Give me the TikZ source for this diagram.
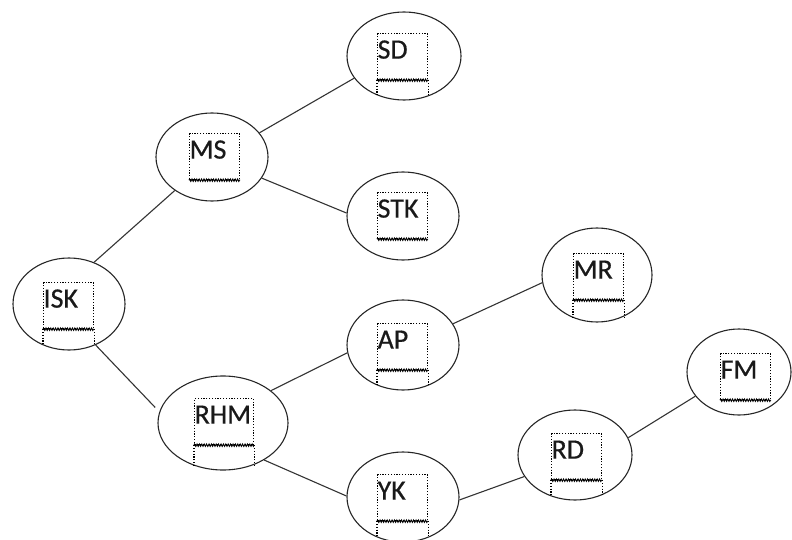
\documentclass[tikz,border=0pt]{standalone}
\usepackage{fontspec}
\setmainfont{Carlito}
\newfontfamily\boxfont{Carlito}[FakeBold=0.6]
\usetikzlibrary{shapes.geometric,decorations.pathmorphing}
\begin{document}
\begin{tikzpicture}[
    x=1pt, y=-1pt,
    bub/.style={draw=black!85, line width=1.1pt, ellipse, inner sep=0pt},
    tbox/.style={draw, line width=1.2pt, dash pattern=on 1.2pt off 1.6pt,
      anchor=north west, inner xsep=0pt, inner ysep=0pt,
      text width=50pt, align=left, text height=25pt, text depth=21pt,
      font=\boxfont\fontsize{28}{30}\selectfont, text=black!90},
    wavy/.style={line width=0.9pt, decorate,
      decoration={zigzag, amplitude=1.2pt, segment length=2.4pt}},
    lower/.style={line width=1.2pt, dash pattern=on 1.2pt off 1.6pt,
      shorten >=5pt},
    link/.style={draw=black!80, line width=1.1pt}
  ]
  \useasboundingbox (0,0) rectangle (792,540);
  % ellipses
  \node[bub, minimum width=112pt, minimum height=92pt] (isk) at (69,304) {};
  \node[bub, minimum width=112pt, minimum height=88pt] (ms) at (212,157) {};
  \node[bub, minimum width=114pt, minimum height=88pt] (sd) at (404,56) {};
  \node[bub, minimum width=112pt, minimum height=88pt] (stk) at (403,216) {};
  \node[bub, minimum width=112pt, minimum height=90pt] (ap) at (403,345) {};
  \node[bub, minimum width=112pt, minimum height=90pt] (yk) at (403,497) {};
  \node[bub, minimum width=110pt, minimum height=94pt] (mr) at (597,275) {};
  \node[bub, minimum width=130pt, minimum height=94pt] (rhm) at (223,423) {};
  \node[bub, minimum width=114pt, minimum height=90pt] (rd) at (575,455) {};
  \node[bub, minimum width=104pt, minimum height=86pt] (fm) at (739,372) {};
  % text boxes
  \node[tbox] (iskbox) at (43,282) {ISK};
  \node[tbox] (msbox) at (189,133) {MS};
  \node[tbox] (sdbox) at (377,33) {SD};
  \node[tbox] (stkbox) at (377,192) {STK};
  \node[tbox] (apbox) at (377,323) {AP};
  \node[tbox] (ykbox) at (377,474) {YK};
  \node[tbox] (mrbox) at (573,253) {MR};
  \node[tbox, text width=59pt] (rhmbox) at (194,398) {RHM};
  \node[tbox] (rdbox) at (551,433) {RD};
  \node[tbox] (fmbox) at (720,353) {FM};
  % wavy bottoms
  \draw[wavy] (iskbox.south west) -- (iskbox.south east);
  \draw[wavy] (msbox.south west) -- (msbox.south east);
  \draw[wavy] (sdbox.south west) -- (sdbox.south east);
  \draw[wavy] (stkbox.south west) -- (stkbox.south east);
  \draw[wavy] (apbox.south west) -- (apbox.south east);
  \draw[wavy] (ykbox.south west) -- (ykbox.south east);
  \draw[wavy] (mrbox.south west) -- (mrbox.south east);
  \draw[wavy] (rhmbox.south west) -- (rhmbox.south east);
  \draw[wavy] (rdbox.south west) -- (rdbox.south east);
  \draw[wavy] (fmbox.south west) -- (fmbox.south east);
  % lower parts
  \draw[lower] (iskbox.south west) -- (iskbox.south west |- isk.south);
  \draw[lower] (iskbox.south east) -- (iskbox.south east |- isk.south);
  \draw[lower] (sdbox.south west) -- (sdbox.south west |- sd.south);
  \draw[lower] (sdbox.south east) -- (sdbox.south east |- sd.south);
  \draw[lower] (apbox.south west) -- (apbox.south west |- ap.south);
  \draw[lower] (apbox.south east) -- (apbox.south east |- ap.south);
  \draw[lower] (ykbox.south west) -- (ykbox.south west |- yk.south);
  \draw[lower] (ykbox.south east) -- (ykbox.south east |- yk.south);
  \draw[lower] (mrbox.south west) -- (mrbox.south west |- mr.south);
  \draw[lower] (mrbox.south east) -- (mrbox.south east |- mr.south);
  \draw[lower] (rhmbox.south west) -- (rhmbox.south west |- rhm.south);
  \draw[lower] (rhmbox.south east) -- (rhmbox.south east |- rhm.south);
  \draw[lower] (rdbox.south west) -- (rdbox.south west |- rd.south);
  \draw[lower] (rdbox.south east) -- (rdbox.south east |- rd.south);
  % links
  \draw[link] (isk.59) -- (ms.222);
  \draw[link] (ms.27) -- (sd.204);
  \draw[link] (ms.337) -- (stk.177);
  \draw[link, shorten >=6pt] (isk.303) -- (rhm.170);
  \draw[link] (rhm.34) -- (ap.188);
  \draw[link] (rhm.318) -- (yk.179);
  \draw[link] (ap.23) -- (mr.188);
  \draw[link] (yk.357) -- (rd.203);
  \draw[link] (rd.18) -- (fm.209);
\end{tikzpicture}
\end{document}
